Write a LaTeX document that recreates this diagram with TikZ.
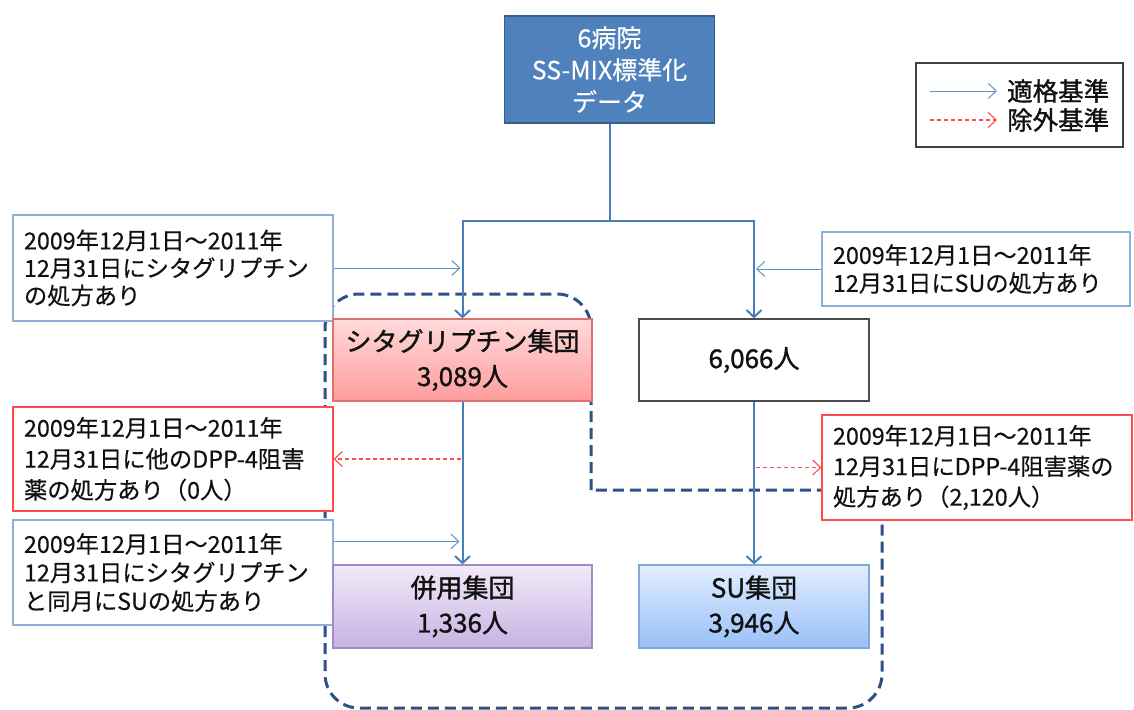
\documentclass[tikz,border=0pt]{standalone}
\usepackage{fontspec}
\setmainfont{Noto Sans CJK JP}
\newfontfamily\heavyjp{Noto Sans CJK JP}[FakeBold=1.2]
\newfontfamily\semijp{Noto Sans CJK JP}[FakeBold=0.4]
\usetikzlibrary{arrows.meta}
\definecolor{topblue}{HTML}{4F81BD}
\definecolor{topborder}{HTML}{385D8A}
\definecolor{lineblue}{HTML}{4A7EBB}
\definecolor{critblue}{HTML}{8DB0DA}
\definecolor{critred}{HTML}{FF4B4B}
\definecolor{navy}{HTML}{2E5283}
\definecolor{pinktop}{HTML}{FFDADA}
\definecolor{pinkbot}{HTML}{FF9C9C}
\definecolor{pinkborder}{HTML}{E07070}
\definecolor{purtop}{HTML}{F1EAF8}
\definecolor{purbot}{HTML}{C8B2E2}
\definecolor{purborder}{HTML}{A08CC4}
\definecolor{sutop}{HTML}{E2EEFF}
\definecolor{subot}{HTML}{99C0F8}
\definecolor{suborder}{HTML}{80A8DA}
\definecolor{txt}{HTML}{111111}
\begin{document}
\begin{tikzpicture}[x=1pt,y=-1pt,
  crit/.style={draw, line width=1.1pt, fill=white, inner xsep=11pt, inner ysep=0pt,
    align=left, text=txt},
  critb/.style={crit, draw=critblue},
  critr/.style={crit, draw=critred},
  grp/.style={draw, line width=1.2pt, inner sep=0pt, align=center, text=txt,
    font=\heavyjp\fontsize{26}{35}\selectfont},
  mainarr/.style={line width=2pt, draw=lineblue, -{Straight Barb[length=7pt,width=15pt]}},
  sidearr/.style={line width=1pt, draw=lineblue!85, -{Straight Barb[length=8pt,width=15pt]}},
  exclarr/.style={line width=1.1pt, draw=critred, dash pattern=on 4pt off 3pt, -{Straight Barb[length=8pt,width=15pt]}},
  mainline/.style={line width=2pt, draw=lineblue},
]
\fill[white] (0,0) rectangle (1134,709);
\useasboundingbox (0,0) rectangle (1134,709);

% dashed region
\draw[navy, line width=3pt, dash pattern=on 11pt off 6pt, rounded corners=34pt]
  (591,490) -- (591,294) -- (325,294) -- (325,708) -- (882,708) -- (882,490) -- (591,490);

% top box
\node[draw=topborder, line width=1.2pt, fill=topblue, text=white, minimum width=210pt, minimum height=107pt,
  inner sep=0pt, align=center, font=\semijp\fontsize{25}{32}\selectfont] (top) at (609.5,69.5)
  {6病院\\SS-MIX標準化\\データ};

% legend
\node[draw=txt!80, line width=1.2pt, minimum width=207pt, minimum height=84pt, inner sep=0pt] (leg) at (1019.5,105) {};
\coordinate (l1a) at (930,91);
\coordinate (l1b) at (997,91);
\coordinate (l2a) at (930,120);
\coordinate (l2b) at (997,120);
\node[anchor=west, inner sep=0pt, text=txt, font=\heavyjp\fontsize{25.5}{30}\selectfont] (l1t) at (1007,91) {適格基準};
\node[anchor=west, inner sep=0pt, text=txt, font=\heavyjp\fontsize{25.5}{30}\selectfont] (l2t) at (1007,120) {除外基準};
\draw[sidearr] (l1a) -- (l1b);
\draw[exclarr] (l2a) -- (l2b);

% criteria boxes
\node[critb, text width=298pt, minimum height=106pt, font=\semijp\fontsize{23.3}{27.5}\selectfont] (A) at (173,268)
  {2009年12月1日～2011年\\12月31日にシタグリプチン\\の処方あり};
\node[critb, text width=286pt, minimum height=74pt, font=\semijp\fontsize{23.3}{28}\selectfont] (B) at (976,269)
  {2009年12月1日～2011年\\12月31日にSUの処方あり};
\node[critr, text width=298pt, minimum height=104pt, font=\semijp\fontsize{23.3}{31}\selectfont] (C) at (173,459)
  {2009年12月1日～2011年\\12月31日に他のDPP-4阻害\\薬の処方あり（0人）};
\node[critb, text width=298pt, minimum height=105pt, font=\semijp\fontsize{23.3}{28.5}\selectfont] (D) at (173,572.5)
  {2009年12月1日～2011年\\12月31日にシタグリプチン\\と同月にSUの処方あり};
\node[critr, text width=288pt, minimum height=105pt, font=\semijp\fontsize{23.3}{30.5}\selectfont] (E) at (977,467.5)
  {2009年12月1日～2011年\\12月31日にDPP-4阻害薬の\\処方あり（2,120人）};

% group boxes
\node[grp, draw=pinkborder, top color=pinktop, bottom color=pinkbot, minimum width=259pt, minimum height=82pt] (pink) at (462.5,360)
  {シタグリプチン集団\\3,089人};
\node[grp, draw=txt!75, fill=white, minimum width=230pt, minimum height=82pt] (six) at (754,360)
  {6,066人};
\node[grp, draw=purborder, top color=purtop, bottom color=purbot, minimum width=259pt, minimum height=83pt] (hei) at (462.5,606.5)
  {併用集団\\1,336人};
\node[grp, draw=suborder, top color=sutop, bottom color=subot, minimum width=230pt, minimum height=83pt] (su) at (754,606.5)
  {SU集団\\3,946人};

% main flow
\coordinate (jL) at (pink.north |- 0,221);
\coordinate (jR) at (six.north |- 0,221);
\coordinate (jC) at (top.south |- 0,221);
\draw[mainline] (top.south) -- (jC);
\draw[mainline, line cap=rect] (jL) -- (jR);
\draw[mainarr] (jL) -- (pink.north);
\draw[mainarr] (jR) -- (six.north);
\draw[mainarr] (pink.south) -- (hei.north);
\draw[mainarr] (six.south) -- (su.north);

% criteria arrows
\draw[sidearr] (A.east) -- ([xshift=-2pt]A.east -| pink.north);
\draw[sidearr] (B.west) -- ([xshift=2pt]B.west -| six.north);
\draw[exclarr] ([xshift=-2pt]C.east -| pink.south) -- (C.east);
\draw[exclarr] ([xshift=2pt]E.west -| six.south) -- (E.west);
\draw[sidearr] ([yshift=-22pt]D.north east) -- ([yshift=-22pt,xshift=-3pt]D.north east -| pink.south);
\end{tikzpicture}
\end{document}
